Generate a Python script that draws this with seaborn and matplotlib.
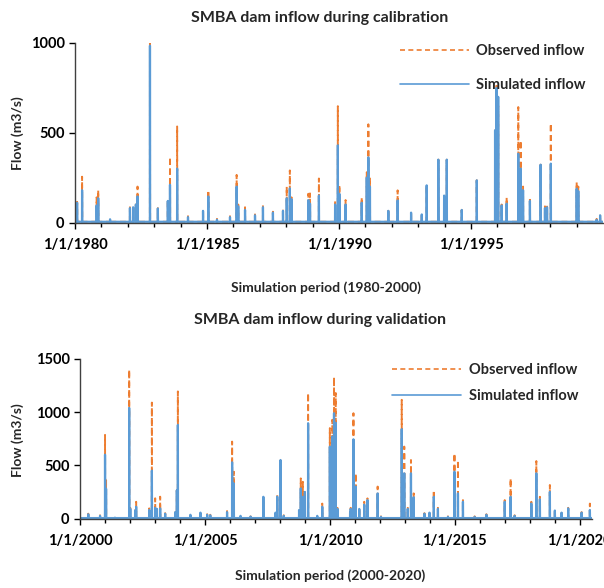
import matplotlib
matplotlib.use("Agg")
import matplotlib.pyplot as plt
import matplotlib.dates as mdates
import numpy as np
import pandas as pd
import seaborn as sns

# ---------------- data (peak flows, m3/s) ----------------
cal_dates = ["1980-01-30", "1980-04-08", "1980-10-26", "1980-11-17", "1981-04-30",
             "1982-01-30", "1982-03-15", "1982-04-22", "1982-05-15", "1982-11-03",
             "1983-02-20", "1983-07-08", "1983-08-07", "1983-11-14", "1984-04-12",
             "1984-11-06", "1985-01-18", "1985-05-18", "1985-11-14", "1986-02-14",
             "1986-03-08", "1986-06-10", "1986-10-26", "1987-02-13", "1987-07-01",
             "1987-11-17", "1988-01-08", "1988-02-20", "1988-03-14", "1988-11-02",
             "1988-11-25", "1989-03-28", "1989-11-07", "1989-12-15", "1990-01-05",
             "1990-04-01", "1990-11-10", "1991-01-19", "1991-02-10", "1991-03-04",
             "1991-11-13", "1992-03-21", "1992-09-23", "1993-02-18", "1993-04-27",
             "1993-10-05", "1993-12-24", "1994-01-30", "1994-08-25", "1995-03-21",
             "1995-11-29", "1995-12-20", "1996-01-11", "1996-02-28", "1996-05-07",
             "1996-10-15", "1996-11-17", "1996-12-20", "1997-03-25", "1997-08-20",
             "1997-10-19", "1997-11-17", "1998-01-08", "1999-01-01", "1999-01-23",
             "1999-10-04", "1999-11-21"]
cal_observed = [115, 255, 140, 180, 20, 85, 90, 105, 200, 1000,
                80, 125, 365, 535, 35, 70, 180, 20, 35, 265,
                100, 85, 45, 95, 60, 75, 200, 290, 140, 160,
                162, 245, 123, 648, 210, 125, 140, 280, 547, 250,
                75, 179, 60, 50, 207, 350, 150, 350, 70, 235,
                520, 775, 650, 100, 140, 643, 457, 200, 140, 322,
                90, 95, 552, 225, 200, 20, 45]
cal_simulated = [110, 180, 95, 135, 18, 80, 85, 100, 145, 985,
                 78, 120, 210, 300, 30, 65, 145, 15, 30, 200,
                 90, 70, 40, 85, 55, 65, 135, 190, 130, 125,
                 105, 150, 100, 430, 160, 100, 110, 250, 363, 200,
                 65, 123, 55, 45, 207, 350, 150, 350, 70, 235,
                 514, 750, 700, 95, 105, 383, 300, 180, 120, 322,
                 80, 85, 328, 188, 175, 15, 40]

val_dates = ["2000-05-01", "2000-10-20", "2001-01-01", "2001-01-16", "2001-05-26",
             "2001-12-20", "2002-01-05", "2002-03-18", "2002-04-01", "2002-10-09",
             "2002-11-17", "2003-01-04", "2003-01-30", "2003-03-18", "2003-05-30",
             "2003-10-26", "2003-11-17", "2003-12-02", "2004-06-02", "2004-10-27",
             "2005-02-02", "2005-03-20", "2005-11-20", "2006-02-02", "2006-02-27",
             "2006-06-05", "2006-10-30", "2007-05-05", "2007-10-30", "2007-11-24",
             "2008-01-11", "2008-02-27", "2008-10-08", "2008-11-02", "2008-12-02",
             "2009-01-01", "2009-02-17", "2009-07-01", "2009-09-12", "2010-01-01",
             "2010-02-06", "2010-03-03", "2010-03-28", "2010-04-22", "2010-10-24",
             "2010-11-02", "2010-12-12", "2011-01-15", "2011-03-07", "2011-05-19",
             "2011-07-05", "2011-12-01", "2012-01-19", "2012-11-17", "2012-12-24",
             "2013-02-13", "2013-04-01", "2013-05-11", "2013-10-15", "2013-12-28",
             "2014-03-01", "2014-04-30", "2014-09-24", "2014-12-28", "2015-02-17",
             "2015-05-01", "2015-10-19", "2016-04-08", "2017-01-01", "2017-03-28",
             "2017-05-26", "2018-01-25", "2018-04-08", "2018-05-30", "2018-10-23",
             "2019-01-04", "2019-04-12", "2019-07-18", "2020-01-30", "2020-05-30"]
val_observed = [45, 30, 786, 360, 10, 1400, 100, 80, 157, 95,
                1090, 190, 100, 205, 50, 60, 265, 1195, 40, 60,
                40, 35, 70, 723, 440, 30, 20, 195, 60, 220,
                545, 30, 90, 377, 345, 260, 1180, 30, 140, 850,
                928, 1330, 1180, 100, 60, 100, 990, 425, 100, 157,
                189, 300, 20, 1116, 676, 100, 550, 236, 50, 60,
                267, 100, 20, 613, 550, 173, 20, 40, 173, 377,
                30, 157, 540, 204, 315, 80, 60, 100, 60, 140]
val_simulated = [40, 25, 600, 280, 8, 1040, 90, 75, 110, 80,
                 450, 100, 90, 95, 45, 60, 265, 880, 35, 55,
                 35, 30, 60, 528, 330, 25, 18, 204, 55, 205,
                 550, 25, 80, 283, 204, 250, 896, 25, 110, 676,
                 770, 990, 900, 90, 55, 90, 745, 300, 90, 130,
                 173, 236, 15, 840, 425, 90, 425, 200, 45, 55,
                 204, 90, 15, 440, 236, 157, 15, 35, 157, 204,
                 25, 140, 425, 180, 250, 75, 55, 95, 55, 80]

base_flow = 4  # typical low flow between events

OBS_COLOR = "#ED7D31"
SIM_COLOR = "#5B9BD5"
AX_COLOR = "#404040"


def daily_frame(start, end, dates, obs, sim):
    idx = pd.date_range(start, end, freq="D")
    o = pd.Series(float(base_flow), index=idx)
    s = pd.Series(float(base_flow), index=idx)
    d = pd.to_datetime(dates)
    o.loc[d] = obs
    s.loc[d] = sim
    return pd.DataFrame({"date": idx, "observed": o.values, "simulated": s.values})


cal = daily_frame("1980-01-01", "1999-12-31", cal_dates, cal_observed, cal_simulated)
val = daily_frame("2000-01-01", "2020-06-30", val_dates, val_observed, val_simulated)

sns.set_style("ticks")
plt.rcParams["font.family"] = ["Lato", "DejaVu Sans"]
plt.rcParams["font.weight"] = "bold"

fig = plt.figure(figsize=(6.04, 5.88), dpi=100)

ax1 = fig.add_axes([75 / 604, 1 - 222.5 / 588, (603 - 75) / 604, (222.5 - 43) / 588])
ax2 = fig.add_axes([80 / 604, 1 - 518.5 / 588, (592 - 80) / 604, (518.5 - 359) / 588])


def draw(ax, df, xlim, ylim, yticks, major_years):
    sns.lineplot(data=df, x="date", y="observed", ax=ax, color=OBS_COLOR,
                 linestyle=(0, (3.0, 2.0)), linewidth=1.4, estimator=None,
                 label="Observed inflow")
    sns.lineplot(data=df, x="date", y="simulated", ax=ax, color=SIM_COLOR,
                 linewidth=1.6, estimator=None, label="Simulated inflow")
    ax.set_xlim(pd.Timestamp(xlim[0]), pd.Timestamp(xlim[1]))
    ax.set_ylim(*ylim)
    ax.set_yticks(yticks)
    ax.set_xticks([pd.Timestamp(f"{y}-01-01") for y in major_years])
    ax.set_xticklabels([f"1/1/{y}" for y in major_years])
    ax.xaxis.set_minor_locator(mdates.YearLocator(1))
    ax.set_xlabel("")
    ax.set_ylabel("")
    for sp in ["top", "right"]:
        ax.spines[sp].set_visible(False)
    for sp in ["left", "bottom"]:
        ax.spines[sp].set_color(AX_COLOR)
        ax.spines[sp].set_linewidth(1.0)
    ax.tick_params(axis="both", which="major", labelsize=10.5, colors="black",
                   length=4, width=1.0, direction="out")
    ax.tick_params(axis="x", which="minor", length=3, width=1.0, color="black")
    ax.tick_params(axis="x", which="major", pad=7)
    for lab in ax.get_xticklabels() + ax.get_yticklabels():
        lab.set_fontweight("bold")
    ax.set_facecolor("white")


draw(ax1, cal, ("1980-01-01", "1999-12-31"), (0, 1000), [0, 500, 1000],
     [1980, 1985, 1990, 1995])
draw(ax2, val, ("2000-01-01", "2020-06-30"), (0, 1500), [0, 500, 1000, 1500],
     [2000, 2005, 2010, 2015, 2020])
for lab in ax2.get_xticklabels():
    lab.set_clip_on(False)

ax1.legend(loc="upper left", bbox_to_anchor=(393 / 604, 1 - 37 / 588),
           bbox_transform=fig.transFigure, frameon=False, borderpad=0,
           handlelength=4.7, handletextpad=0.5, labelspacing=1.35,
           prop={"size": 10.5, "weight": "bold"})
ax2.legend(loc="upper left", bbox_to_anchor=(385 / 604, 1 - 356 / 588),
           bbox_transform=fig.transFigure, frameon=False, borderpad=0,
           handlelength=4.7, handletextpad=0.55, labelspacing=0.8,
           prop={"size": 10.5, "weight": "bold"})
for leg in (ax1.get_legend(), ax2.get_legend()):
    for ln in leg.get_lines():
        ln.set_linewidth(1.2)

fig.text(320 / 604, 1 - 18 / 588, "SMBA dam inflow during calibration",
         ha="center", va="center", fontsize=11.5, fontweight="bold")
fig.text(320 / 604, 1 - 320 / 588, "SMBA dam inflow during validation",
         ha="center", va="center", fontsize=11.5, fontweight="bold")
fig.text(18 / 604, 1 - 133 / 588, "Flow (m3/s)", rotation=90,
         ha="center", va="center", fontsize=10, fontweight="bold")
fig.text(18 / 604, 1 - 440 / 588, "Flow (m3/s)", rotation=90,
         ha="center", va="center", fontsize=10, fontweight="bold")
fig.text(326 / 604, 1 - 288 / 588, "Simulation period (1980-2000)",
         ha="center", va="center", fontsize=10, fontweight="bold")
fig.text(330 / 604, 1 - 576 / 588, "Simulation period (2000-2020)",
         ha="center", va="center", fontsize=10, fontweight="bold")

fig.savefig("out.png", dpi=100, facecolor="white")
